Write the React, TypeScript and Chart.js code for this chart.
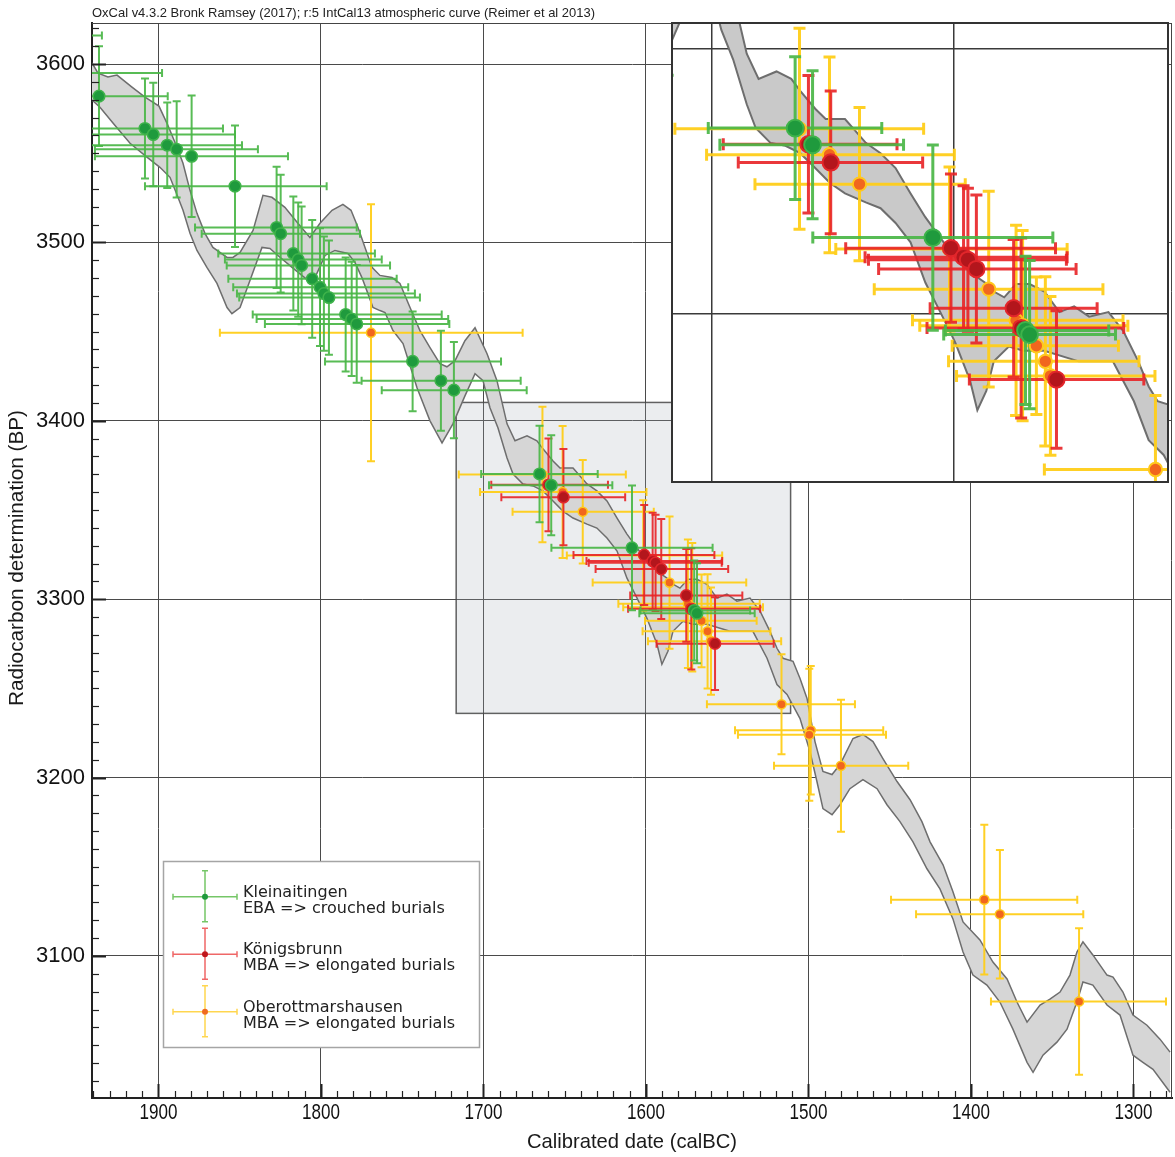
import React, { useEffect, useRef } from "react";
import { Chart, registerables } from "chart.js";

Chart.register(...registerables);

// ---------------- data ----------------
// IntCal13 calibration band: upper (older BP) and lower edges
const upperYear = [1940.9, 1937.2, 1931.1, 1925.5, 1916.3, 1908.3, 1899.7, 1894.8, 1888.6, 1884.9,
  1880.6, 1876.3, 1871.4, 1866.5, 1857.8, 1854.2, 1849.8, 1841.8, 1835.7, 1830.2,
  1822.2, 1814.2, 1806.8, 1800.6, 1793.2, 1786.5, 1781.5, 1777.2, 1772.9, 1768.6,
  1763.7, 1756.3, 1751.4, 1745.2, 1739.1, 1732.9, 1726.8, 1722.5, 1717.5, 1711.4,
  1705.2, 1697.8, 1691.7, 1685.5, 1680.6, 1673.2, 1667.1, 1663.4, 1657.2, 1652.9,
  1644.9, 1636.3, 1630.2, 1624.0, 1617.8, 1611.7, 1605.5, 1599.4, 1593.2, 1587.1,
  1583.4, 1579.1, 1574.2, 1568.6, 1562.5, 1556.3, 1550.2, 1544.0, 1536.0, 1529.8,
  1523.7, 1519.4, 1515.7, 1509.5, 1505.2, 1500.9, 1496.0, 1491.1, 1485.5, 1480.6,
  1472.6, 1466.5, 1460.3, 1454.2, 1445.5, 1437.5, 1430.2, 1425.2, 1417.2, 1411.1,
  1404.9, 1394.5, 1386.5, 1377.8, 1371.7, 1365.5, 1357.5, 1351.4, 1345.2, 1339.1,
  1334.8, 1331.1, 1325.0, 1316.3, 1312.6, 1306.5, 1300.3, 1291.7, 1283.7, 1277.5];
const upperBP = [3600.6, 3594.9, 3592.7, 3593.8, 3587.1, 3581.5, 3576.4, 3566.9, 3553.4, 3544.4,
  3529.2, 3516.3, 3505.1, 3497.2, 3491.6, 3491.6, 3494.4, 3506.7, 3526.4, 3525.3,
  3519.7, 3510.7, 3502.8, 3510.7, 3518.0, 3521.3, 3518.0, 3508.4, 3497.2, 3486.0,
  3481.5, 3480.3, 3477.0, 3463.5, 3450.6, 3441.0, 3432.0, 3430.3, 3433.7, 3444.9,
  3452.2, 3437.6, 3422.5, 3398.3, 3388.8, 3391.6, 3388.8, 3384.3, 3377.5, 3373.6,
  3373.6, 3364.6, 3360.7, 3355.1, 3345.5, 3336.5, 3328.7, 3321.3, 3315.7, 3311.8,
  3308.4, 3306.2, 3311.2, 3311.2, 3308.4, 3300.6, 3302.8, 3298.9, 3300.6, 3293.3,
  3282.0, 3272.5, 3266.9, 3265.2, 3255.6, 3244.4, 3220.2, 3203.4, 3201.7, 3207.3,
  3221.9, 3224.2, 3220.2, 3210.7, 3197.8, 3187.6, 3175.3, 3164.0, 3151.1, 3136.0,
  3119.1, 3109.0, 3096.6, 3087.1, 3074.2, 3062.9, 3072.5, 3075.8, 3079.8, 3089.3,
  3102.2, 3107.9, 3100.6, 3089.3, 3088.2, 3079.8, 3066.9, 3061.2, 3053.4, 3046.1];
const lowerYear = [1940.9, 1936.0, 1928.0, 1917.5, 1907.1, 1899.1, 1892.9, 1888.0, 1884.9, 1880.6,
  1876.3, 1870.2, 1864.0, 1857.8, 1854.8, 1849.8, 1843.7, 1836.3, 1831.4, 1826.5,
  1817.8, 1808.0, 1803.7, 1797.5, 1791.4, 1783.4, 1779.1, 1774.8, 1771.1, 1768.0,
  1763.7, 1760.6, 1755.7, 1749.5, 1740.9, 1732.9, 1725.5, 1718.8, 1711.4, 1705.2,
  1700.3, 1696.0, 1691.1, 1685.5, 1681.8, 1675.7, 1669.5, 1663.4, 1657.2, 1651.1,
  1644.9, 1636.3, 1630.2, 1624.0, 1617.8, 1611.7, 1605.5, 1599.4, 1593.2, 1590.2,
  1586.5, 1583.4, 1577.2, 1571.1, 1562.5, 1548.3, 1534.2, 1525.5, 1519.4, 1513.2,
  1505.2, 1499.1, 1494.8, 1491.1, 1485.5, 1480.6, 1474.5, 1466.5, 1457.8, 1451.7,
  1443.7, 1435.7, 1427.1, 1419.1, 1411.1, 1404.9, 1398.8, 1390.2, 1382.2, 1374.2,
  1365.5, 1361.8, 1355.7, 1347.1, 1340.9, 1334.8, 1331.1, 1325.0, 1316.3, 1308.3,
  1300.3, 1294.2, 1288.0, 1277.5];
const lowerBP = [3579.8, 3575.8, 3566.9, 3555.6, 3547.8, 3542.1, 3536.5, 3525.3, 3518.0, 3505.1,
  3495.5, 3486.0, 3477.0, 3463.5, 3460.1, 3463.5, 3478.7, 3497.2, 3496.6, 3492.7,
  3486.0, 3478.7, 3480.3, 3492.7, 3495.5, 3493.8, 3488.8, 3480.3, 3471.3, 3463.5,
  3461.8, 3460.7, 3450.6, 3443.3, 3418.5, 3400.0, 3387.6, 3398.3, 3414.0, 3426.4,
  3422.5, 3407.3, 3396.1, 3379.2, 3370.2, 3364.6, 3363.5, 3360.7, 3355.1, 3349.4,
  3345.5, 3342.1, 3339.9, 3334.3, 3327.0, 3311.8, 3300.6, 3289.3, 3274.7, 3263.5,
  3270.8, 3282.0, 3287.6, 3286.0, 3286.0, 3282.0, 3282.0, 3266.9, 3252.2, 3246.6,
  3233.1, 3214.6, 3197.8, 3182.6, 3179.2, 3184.8, 3193.8, 3198.9, 3193.8, 3184.8,
  3175.3, 3164.0, 3148.9, 3137.6, 3120.8, 3102.2, 3089.3, 3083.7, 3074.2, 3059.0,
  3040.4, 3034.8, 3044.4, 3051.7, 3059.0, 3074.2, 3085.4, 3083.7, 3072.5, 3066.9,
  3044.4, 3040.4, 3036.5, 3023.6];

// Kleinaitingen (green)
const kleinYear = [1952, 1955, 1936.6, 1908.3, 1903.2, 1894.6, 1888.8, 1879.6, 1852.9, 1827.3,
  1824.8, 1817.0, 1814.0, 1811.9, 1805.4, 1800.6, 1798.2, 1795.1, 1784.8, 1781.1,
  1778.0, 1743.6, 1726.2, 1718.2, 1665.5, 1658.3, 1608.6, 1570.3, 1568.6];
const kleinBP = [3616, 3595, 3582.0, 3563.9, 3560.5, 3554.5, 3552.2, 3548.3, 3531.5, 3508.4,
  3504.9, 3493.8, 3490.4, 3487.1, 3479.6, 3474.9, 3471.3, 3469.1, 3459.6, 3457.1,
  3454.3, 3433.3, 3422.5, 3417.2, 3370.2, 3363.9, 3328.8, 3293.7, 3292.1];
const kleinErr = [25, 25, 28, 28, 29, 24, 27, 34, 34, 34, 33, 32, 32, 33, 33, 33, 32, 32, 32, 32,
  33, 28, 28, 27, 27, 28, 35, 28, 28];
const kleinFrom = [1995, 1995, 1995, 1990, 1990, 1990, 1939.1, 1939.1, 1908.3, 1877.5,
  1873.4, 1863.2, 1859.1, 1858.0, 1857.0, 1854.0, 1851.7, 1850.3, 1842.0, 1839.6,
  1834.5, 1797.5, 1775.0, 1762.6, 1701.4, 1696.6, 1658.2, 1603.4, 1604.1];
const kleinTo = [1934.8, 1897.8, 1894.3, 1860.3, 1852.9, 1848.6, 1838.8, 1820.3, 1796.5, 1778.0,
  1776.0, 1766.8, 1762.6, 1757.5, 1753.4, 1746.3, 1742.2, 1739.1, 1725.7, 1721.7,
  1721.0, 1689.2, 1677.1, 1673.4, 1629.7, 1620.7, 1559.0, 1535.9, 1533.1];

// Königsbrunn (red)
const konYear = [1660.0, 1650.8, 1601.1, 1595.9, 1594.1, 1590.6, 1575.2, 1572.1, 1557.5];
const konBP = [3364.1, 3357.2, 3324.8, 3321.4, 3320.4, 3316.9, 3302.1, 3294.6, 3275.1];
const konErr = [26, 27, 28, 27, 27, 28, 26, 34, 26];
const konFrom = [1695.2, 1689.0, 1644.6, 1636.6, 1635.2, 1631.0, 1609.7, 1611.0, 1593.5];
const konTo = [1623.4, 1612.8, 1557.9, 1553.1, 1553.4, 1549.4, 1540.7, 1529.7, 1521.4];

// Oberottmarshausen (yellow/orange)
const oberYear = [1769.2, 1663.7, 1651.3, 1638.9, 1601.7, 1585.5, 1574.2, 1571.5, 1565.8, 1562.1,
  1560.0, 1516.6, 1498.6, 1499.5, 1480.0, 1391.8, 1382.2, 1333.5];
const oberBP = [3449.4, 3369.9, 3360.1, 3349.0, 3324.5, 3309.3, 3297.5, 3295.5, 3287.9, 3282.0,
  3276.5, 3241.1, 3226.5, 3224.0, 3206.6, 3131.6, 3123.4, 3074.5];
const oberErr = [72, 38, 37, 29, 31, 37, 36, 36, 26, 32, 30, 28, 36, 37, 37, 42, 36, 41];
const oberFrom = [1862.2, 1715.2, 1702.1, 1682.1, 1648.7, 1632.8, 1617.0, 1614.0, 1600.6, 1602.1,
  1598.8, 1562.5, 1545.2, 1543.4, 1521.2, 1449.2, 1433.8, 1387.7];
const oberTo = [1675.9, 1612.4, 1599.7, 1595.2, 1553.1, 1538.3, 1530.0, 1528.0, 1531.9, 1523.4,
  1516.8, 1471.4, 1454.0, 1452.3, 1438.6, 1334.6, 1330.9, 1280.0];

const seriesNames = ["Kleinaitingen", "Königsbrunn", "Oberottmarshausen"];
const seriesNotes = ["EBA => crouched burials", "MBA => elongated burials", "MBA => elongated burials"];

// tick values (major, labelled)
const xTickValues = [1900, 1800, 1700, 1600, 1500, 1400, 1300];
const yTickValues = [3600, 3500, 3400, 3300, 3200, 3100];
const zoomXTicks = [1700, 1600];
const zoomYTicks = [3400, 3300];

const headerText = "OxCal v4.3.2 Bronk Ramsey (2017); r:5 IntCal13 atmospheric curve (Reimer et al 2013)";
const xTitle = "Calibrated date (calBC)";
const yTitle = "Radiocarbon determination (BP)";

// axis windows
const mainX = { min: 1276.3, max: 1940.9 };
const mainY = { min: 3020.4, max: 3623 };
const zoomX = { min: 1511.0, max: 1716.8 };
const zoomY = { min: 3236.0, max: 3410.3 };

// ---------------- styles ----------------
const SANS = "'Liberation Sans', Arial, sans-serif";
const VERDANA = "'DejaVu Sans', Verdana, sans-serif";

const STYLE = [
  { bar: "rgba(74,182,70,0.92)", fill: "#1f9a3d", edge: "#3fb34b", legend: "rgba(110,195,95,0.95)", dot: "#1f9a3d", r: 5.8 },
  { bar: "rgba(232,34,38,0.9)", fill: "#b3161c", edge: "#e2262b", legend: "rgba(238,95,95,0.95)", dot: "#c0161c", r: 5.6 },
  { bar: "rgba(255,205,25,0.95)", fill: "#f1661e", edge: "#ffc81e", legend: "rgba(255,212,70,0.95)", dot: "#f06a1f", r: 4.6 },
];

function makeDatasets(big: boolean) {
  const k = big ? 1.45 : 1;
  const ds: any[] = [
    {
      label: "IntCal13 upper",
      data: upperYear.map((x, i) => ({ x, y: upperBP[i] })),
      showLine: true, pointRadius: 0, tension: 0,
      borderColor: "#6e6e6e", borderWidth: big ? 2 : 1.5,
      backgroundColor: big ? "#c9c9c9" : "#d6d6d6",
      fill: "+1", order: 11,
    },
    {
      label: "IntCal13 lower",
      data: lowerYear.map((x, i) => ({ x, y: lowerBP[i] })),
      showLine: true, pointRadius: 0, tension: 0,
      borderColor: "#6e6e6e", borderWidth: big ? 2 : 1.5,
      fill: false, order: 10,
    },
  ];
  const groups = [
    [kleinYear, kleinBP, kleinErr, kleinFrom, kleinTo],
    [konYear, konBP, konErr, konFrom, konTo],
    [oberYear, oberBP, oberErr, oberFrom, oberTo],
  ];
  groups.forEach(([yr, bp, er, fr, to], s) => {
    ds.push({
      label: seriesNames[s],
      data: yr.map((x, i) => ({ x, y: bp[i] })),
      showLine: false,
      pointRadius: STYLE[s].r * k,
      pointBackgroundColor: STYLE[s].fill,
      pointBorderColor: STYLE[s].edge,
      pointBorderWidth: big ? 2 : 1.5,
      order: s + 1,
      errBP: er, errFrom: fr, errTo: to, barColor: STYLE[s].bar,
    });
  });
  return ds;
}

// fit text to a target width by horizontal scaling (condensed look)
function fitText(ctx: any, text: string, x: number, y: number, font: string, width: number) {
  ctx.font = font;
  const w = ctx.measureText(text).width;
  const sx = w > 0 ? width / w : 1;
  ctx.save();
  ctx.translate(x, y);
  ctx.scale(sx, 1);
  ctx.fillText(text, 0, 0);
  ctx.restore();
}

// error bars drawn right after the calibration band (so points sit on top)
const errorBarPlugin = {
  id: "errorBars",
  afterDatasetDraw(chart: any, args: any, opts: any) {
    if (args.index !== 1) return;
    const { ctx, chartArea: a, scales } = chart;
    const xs = scales.x, ys = scales.y;
    const lw = opts.lineWidth || 2, cap = opts.cap || 4;
    ctx.save();
    ctx.beginPath();
    ctx.rect(a.left, a.top, a.right - a.left, a.bottom - a.top);
    ctx.clip();
    ctx.lineWidth = lw;
    const list = chart.data.datasets.filter((d: any) => d.errBP).slice().reverse();
    for (const d of list) {
      ctx.strokeStyle = d.barColor;
      d.data.forEach((p: any, i: number) => {
        const px = xs.getPixelForValue(p.x), py = ys.getPixelForValue(p.y);
        const x1 = xs.getPixelForValue(d.errFrom[i]), x2 = xs.getPixelForValue(d.errTo[i]);
        const y1 = ys.getPixelForValue(p.y + d.errBP[i]), y2 = ys.getPixelForValue(p.y - d.errBP[i]);
        ctx.beginPath();
        ctx.moveTo(x1, py); ctx.lineTo(x2, py);
        ctx.moveTo(x1, py - cap); ctx.lineTo(x1, py + cap);
        ctx.moveTo(x2, py - cap); ctx.lineTo(x2, py + cap);
        ctx.moveTo(px, y1); ctx.lineTo(px, y2);
        ctx.moveTo(px - cap, y1); ctx.lineTo(px + cap, y1);
        ctx.moveTo(px - cap, y2); ctx.lineTo(px + cap, y2);
        ctx.stroke();
      });
    }
    ctx.restore();
  },
};

// shaded region that is enlarged in the inset
const zoomBoxPlugin = {
  id: "zoomBox",
  beforeDatasetsDraw(chart: any) {
    const { ctx, scales } = chart;
    const xa = scales.x.getPixelForValue(zoomX.max), xb = scales.x.getPixelForValue(zoomX.min);
    const ya = scales.y.getPixelForValue(zoomY.max), yb = scales.y.getPixelForValue(zoomY.min);
    ctx.save();
    ctx.fillStyle = "rgba(165,172,182,0.22)";
    ctx.fillRect(xa, ya, xb - xa, yb - ya);
    ctx.strokeStyle = "rgba(70,70,70,0.85)";
    ctx.lineWidth = 1.5;
    ctx.strokeRect(xa, ya, xb - xa, yb - ya);
    ctx.restore();
  },
};

const mainDecorPlugin = {
  id: "mainDecor",
  afterDraw(chart: any) {
    const { ctx, chartArea: a, scales } = chart;
    const xs = scales.x, ys = scales.y;
    ctx.save();
    // frame top/right
    ctx.strokeStyle = "#444";
    ctx.lineWidth = 1;
    ctx.beginPath();
    ctx.moveTo(a.left, a.top + 0.5); ctx.lineTo(a.right, a.top + 0.5);
    ctx.moveTo(a.right - 0.5, a.top); ctx.lineTo(a.right - 0.5, a.bottom);
    ctx.stroke();
    // inward ticks
    ctx.strokeStyle = "#222";
    for (let v = Math.ceil(xs.min / 10) * 10; v <= xs.max; v += 10) {
      const major = v % 100 === 0;
      const px = Math.round(xs.getPixelForValue(v)) + 0.5;
      ctx.lineWidth = major ? 2 : 1.2;
      ctx.beginPath(); ctx.moveTo(px, a.bottom); ctx.lineTo(px, a.bottom - (major ? 14 : 7)); ctx.stroke();
    }
    for (let v = Math.ceil(ys.min / 10) * 10; v <= ys.max; v += 10) {
      const major = v % 100 === 0;
      const py = Math.round(ys.getPixelForValue(v)) + 0.5;
      ctx.lineWidth = major ? 2 : 1.2;
      ctx.beginPath(); ctx.moveTo(a.left, py); ctx.lineTo(a.left + (major ? 14 : 7), py); ctx.stroke();
    }
    // x tick labels (condensed)
    ctx.fillStyle = "#111";
    ctx.textAlign = "center";
    ctx.textBaseline = "middle";
    for (const v of xTickValues) {
      fitText(ctx, String(v), xs.getPixelForValue(v), 1113, `22px ${SANS}`, 38);
    }
    // header
    ctx.fillStyle = "#222";
    ctx.textAlign = "left";
    ctx.textBaseline = "alphabetic";
    fitText(ctx, headerText, 92, 17, `13px ${SANS}`, 503);
    // axis titles
    ctx.fillStyle = "#1a1a1a";
    ctx.textAlign = "center";
    ctx.textBaseline = "middle";
    fitText(ctx, xTitle, 632, 1142, `21px ${SANS}`, 210);
    ctx.save();
    ctx.translate(17, 558);
    ctx.rotate(-Math.PI / 2);
    fitText(ctx, yTitle, 0, 0, `21px ${SANS}`, 296);
    ctx.restore();
    // legend
    const bx = 163.5, by = 861.5, bw = 316, bh = 186;
    ctx.fillStyle = "#fff";
    ctx.fillRect(bx, by, bw, bh);
    ctx.strokeStyle = "#a5a5a5";
    ctx.lineWidth = 1.5;
    ctx.strokeRect(bx, by, bw, bh);
    const cys = [896.7, 954.2, 1011.7];
    cys.forEach((cy, s) => {
      const cx = 205;
      ctx.strokeStyle = STYLE[s].legend;
      ctx.lineWidth = 1.5;
      ctx.beginPath();
      ctx.moveTo(cx - 32, cy); ctx.lineTo(cx + 32, cy);
      ctx.moveTo(cx - 32, cy - 3); ctx.lineTo(cx - 32, cy + 3);
      ctx.moveTo(cx + 32, cy - 3); ctx.lineTo(cx + 32, cy + 3);
      ctx.moveTo(cx, cy - 26); ctx.lineTo(cx, cy + 25);
      ctx.moveTo(cx - 3, cy - 26); ctx.lineTo(cx + 3, cy - 26);
      ctx.moveTo(cx - 3, cy + 25); ctx.lineTo(cx + 3, cy + 25);
      ctx.stroke();
      ctx.fillStyle = STYLE[s].dot;
      ctx.beginPath(); ctx.arc(cx, cy, 3, 0, Math.PI * 2); ctx.fill();
      ctx.fillStyle = "#222";
      ctx.font = `16px ${VERDANA}`;
      ctx.textAlign = "left";
      ctx.textBaseline = "alphabetic";
      ctx.fillText(seriesNames[s], 243, cy);
      ctx.fillText(seriesNotes[s], 243, cy + 16);
    });
    ctx.restore();
  },
};

const insetBgPlugin = {
  id: "insetBg",
  beforeDraw(chart: any) {
    const { ctx, width, height } = chart;
    ctx.save();
    ctx.fillStyle = "#fff";
    ctx.fillRect(0, 0, width, height);
    ctx.restore();
  },
  afterDraw(chart: any) {
    const { ctx, width, height } = chart;
    ctx.save();
    ctx.strokeStyle = "#333";
    ctx.lineWidth = 2;
    ctx.strokeRect(1, 1, width - 2, height - 2);
    ctx.restore();
  },
};

const setTicks = (values: number[]) => (s: any) => {
  s.ticks = values.map((v) => ({ value: v }));
};

export default function App() {
  const mainRef = useRef<HTMLCanvasElement>(null);
  const insetRef = useRef<HTMLCanvasElement>(null);

  useEffect(() => {
    const main = new Chart(mainRef.current as HTMLCanvasElement, {
      type: "scatter",
      data: { datasets: makeDatasets(false) },
      options: {
        animation: false,
        responsive: false,
        devicePixelRatio: 1,
        events: [],
        layout: { autoPadding: false, padding: { top: 23, right: 3, left: 0, bottom: 0 } },
        plugins: {
          legend: { display: false },
          tooltip: { enabled: false },
          errorBars: { lineWidth: 2, cap: 4 },
        } as any,
        scales: {
          x: {
            type: "linear", reverse: true, min: mainX.min, max: mainX.max,
            afterBuildTicks: setTicks(xTickValues),
            afterFit: (s: any) => { s.height = 59; },
            ticks: { display: false },
            grid: { color: "#4a4a4a", lineWidth: 1, drawTicks: false },
            border: { display: true, color: "#222", width: 2 },
          },
          y: {
            type: "linear", min: mainY.min, max: mainY.max,
            afterBuildTicks: setTicks(yTickValues),
            afterFit: (s: any) => { s.width = 92; },
            ticks: {
              autoSkip: false, padding: 7,
              color: "#111", font: { family: SANS, size: 22 },
              callback: (v: any) => String(v),
            },
            grid: { color: "#4a4a4a", lineWidth: 1, drawTicks: false },
            border: { display: true, color: "#222", width: 2 },
          },
        } as any,
      },
      plugins: [errorBarPlugin, zoomBoxPlugin, mainDecorPlugin],
    } as any);

    const inset = new Chart(insetRef.current as HTMLCanvasElement, {
      type: "scatter",
      data: { datasets: makeDatasets(true) },
      options: {
        animation: false,
        responsive: false,
        devicePixelRatio: 1,
        events: [],
        layout: { autoPadding: false, padding: 0 },
        plugins: {
          legend: { display: false },
          tooltip: { enabled: false },
          errorBars: { lineWidth: 3, cap: 6 },
        } as any,
        scales: {
          x: {
            type: "linear", reverse: true, min: zoomX.min, max: zoomX.max,
            afterBuildTicks: setTicks(zoomXTicks),
            afterFit: (s: any) => { s.height = 0; },
            ticks: { display: false },
            grid: { color: "#3a3a3a", lineWidth: 1.5, drawTicks: false },
            border: { display: false },
          },
          y: {
            type: "linear", min: zoomY.min, max: zoomY.max,
            afterBuildTicks: setTicks(zoomYTicks),
            afterFit: (s: any) => { s.width = 0; },
            ticks: { display: false },
            grid: { color: "#3a3a3a", lineWidth: 1.5, drawTicks: false },
            border: { display: false },
          },
        } as any,
      },
      plugins: [insetBgPlugin, errorBarPlugin],
    } as any);

    return () => {
      main.destroy();
      inset.destroy();
    };
  }, []);

  return (
    <div style={{ position: "absolute", left: 0, top: 0, width: 1175, height: 1157, background: "#fff" }}>
      <canvas ref={mainRef} width={1175} height={1157} style={{ position: "absolute", left: 0, top: 0 }} />
      <canvas ref={insetRef} width={498} height={461} style={{ position: "absolute", left: 671, top: 22 }} />
    </div>
  );
}
